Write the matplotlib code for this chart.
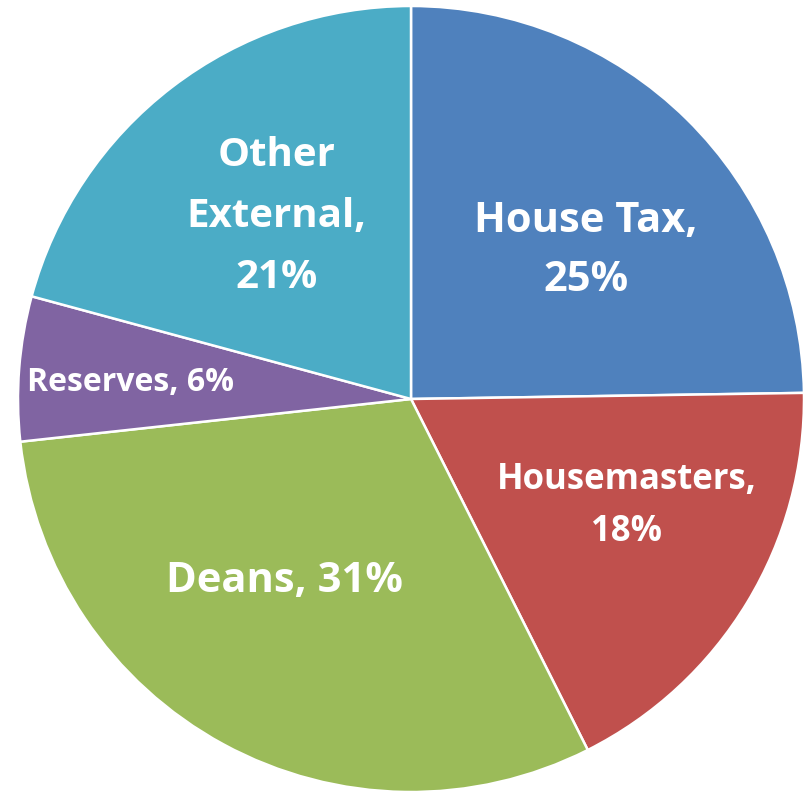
import numpy as np
import matplotlib.pyplot as plt

categories = ["House Tax", "Housemasters", "Deans", "Reserves", "Other External"]
values = [25, 18, 31, 6, 21]
label_texts = ["House Tax,\n25%", "Housemasters,\n18%", "Deans, 31%", "Reserves, 6%", "Other\nExternal,\n21%"]
colors = ["#4F81BD", "#C0504D", "#9BBB59", "#8064A2", "#4BACC6"]

# label placement (fraction of radius, angle in degrees) and font size
label_r = [0.583, 0.613, 0.565, 0.714, 0.577]
label_ang = [40.2, -26.35, -124.9, 176.7, 126.4]
label_size = [30, 25, 30, 23, 29]
label_spacing = [1.6, 1.62, 1.2, 1.2, 1.72]


def main():
    fig = plt.figure(figsize=(8.07, 7.92), dpi=100)
    ax = fig.add_axes([0, 0, 1, 1])

    ax.pie(
        values,
        colors=colors,
        startangle=90,
        counterclock=False,
        radius=1.0,
        wedgeprops=dict(edgecolor="white", linewidth=1.8),
    )

    for txt, r, a, s, ls in zip(label_texts, label_r, label_ang, label_size, label_spacing):
        th = np.deg2rad(a)
        ax.text(r * np.cos(th), r * np.sin(th), txt, ha="center", va="center",
                color="white", fontsize=s, fontweight="bold", family="Open Sans",
                linespacing=ls)

    # pie centre sits at pixel (411, 399) with radius ~393 px
    rpx = 393.0
    ax.set_xlim(-411 / rpx, (807 - 411) / rpx)
    ax.set_ylim(-(792 - 399) / rpx, 399 / rpx)
    ax.set_aspect("equal")
    ax.axis("off")

    fig.savefig("out.png", dpi=100, facecolor="white")


if __name__ == "__main__":
    main()
